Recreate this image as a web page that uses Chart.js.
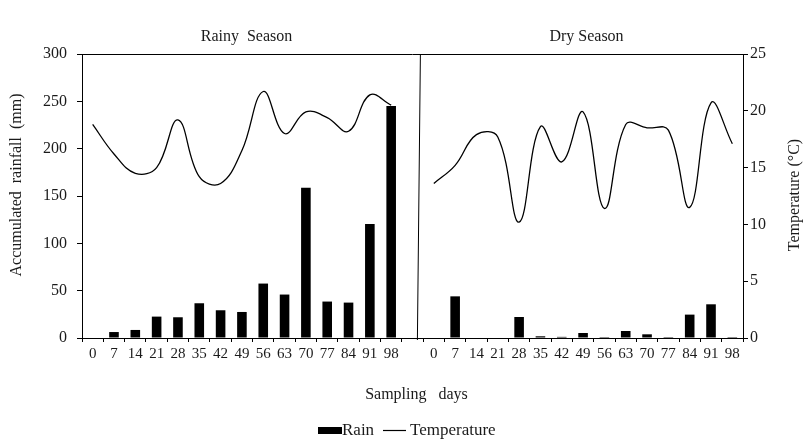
<!DOCTYPE html>
<html lang="en">
<head>
<meta charset="UTF-8">
<title>Rain and Temperature</title>
<script src="https://cdn.jsdelivr.net/npm/chart.js@4.4.0/dist/chart.umd.min.js"></script>
<style>
  body { margin: 0; background: #fff; }
  canvas { display: block; }
</style>
</head>
<body>
<canvas id="myChart" width="803" height="443"></canvas>
<script>
// sampling days, repeated for each season with an empty slot between them
const days = ['0', '7', '14', '21', '28', '35', '42', '49', '56', '63', '70', '77', '84', '91', '98'];
const labels = days.concat([''], days);

// accumulated rainfall (mm)
const rainRainy = [0, 6.3, 8.5, 22.6, 21.9, 36.7, 29.3, 27.5, 57.5, 45.9, 158.6, 38.5, 37.4, 120.5, 245];
const rainDry = [0, 44, 0, 0, 22.2, 1.8, 1.2, 5.3, 1, 7.4, 3.9, 1, 24.7, 35.6, 1];

// temperature (°C)
const tempRainy = [18.8, 16.2, 14.5, 15.0, 19.2, 14.2, 13.6, 16.5, 21.7, 18.0, 19.9, 19.4, 18.2, 21.4, 20.5];
const tempDry = [13.6, 15.2, 17.9, 17.7, 10.2, 18.6, 15.5, 19.9, 11.4, 18.8, 18.5, 18.3, 11.5, 20.7, 17.1];

const seasons = ['Rainy  Season', 'Dry Season'];

const rain = rainRainy.concat([null], rainDry);
const temp = tempRainy.concat([null], tempDry);

const FONT = '"Liberation Serif", "Times New Roman", serif';
const TEXT = '#1a1a1a';

function vText(ctx, text, x, y) {
    ctx.save();
    ctx.translate(x, y);
    ctx.rotate(-Math.PI / 2);
    ctx.textAlign = 'center';
    ctx.textBaseline = 'middle';
    ctx.fillText(text, 0, 0);
    ctx.restore();
}

const decorations = {
    id: 'decorations',
    afterDraw(chart) {
        const { ctx, chartArea: a, scales: { x } } = chart;
        ctx.save();
        ctx.strokeStyle = '#000';
        ctx.lineWidth = 1;

        // top border of the plot
        ctx.beginPath();
        ctx.moveTo(a.left, a.top + 0.5);
        ctx.lineTo(a.right, a.top + 0.5);
        ctx.stroke();

        // divider between the two seasons
        const g = x.getPixelForValue(15);
        const xd = g + 0.3 * (x.getPixelForValue(16) - g);
        ctx.beginPath();
        ctx.moveTo(xd + 1.5, a.top);
        ctx.lineTo(xd - 1.5, a.bottom + 2);
        ctx.stroke();

        ctx.fillStyle = TEXT;
        ctx.font = '16px ' + FONT;
        ctx.textAlign = 'center';
        ctx.textBaseline = 'alphabetic';

        // season titles
        ctx.fillText(seasons[0], 246.5, 40.5);
        ctx.fillText(seasons[1], 586.5, 40.5);

        // axis titles
        ctx.fillText('Sampling   days', 416.5, 399);
        vText(ctx, 'Accumulated  rainfall  (mm)', 17, 185);
        vText(ctx, 'Temperature (°C)', 795, 195);

        // legend
        ctx.fillStyle = '#000';
        ctx.fillRect(318, 427, 24, 7);
        ctx.fillStyle = TEXT;
        ctx.font = '17px ' + FONT;
        ctx.textAlign = 'left';
        ctx.fillText('Rain', 342, 434.5);
        ctx.beginPath();
        ctx.lineWidth = 1.2;
        ctx.moveTo(383, 430.5);
        ctx.lineTo(406, 430.5);
        ctx.stroke();
        ctx.fillText('Temperature', 410, 434.5);
        ctx.restore();
    }
};

const ctx = document.getElementById('myChart').getContext('2d');
const myChart = new Chart(ctx, {
    data: {
        labels: labels,
        datasets: [{
            type: 'line',
            label: 'Temperature',
            data: temp,
            yAxisID: 'y1',
            borderColor: '#000',
            borderWidth: 1.3,
            pointRadius: 0,
            tension: 0.4,
            fill: false,
            order: 0
        }, {
            type: 'bar',
            label: 'Rain',
            data: rain,
            yAxisID: 'y',
            backgroundColor: '#000',
            categoryPercentage: 1,
            barPercentage: 0.45,
            order: 1
        }]
    },
    options: {
        responsive: false,
        animation: false,
        layout: { padding: { top: 54, bottom: 36, left: 0, right: 0 } },
        plugins: {
            legend: { display: false },
            tooltip: { enabled: false }
        },
        scales: {
            x: {
                offset: true,
                afterFit: s => { s.height = 69; },
                grid: { offset: true, drawOnChartArea: false, tickLength: 4, color: '#000' },
                border: { color: '#000' },
                ticks: { color: TEXT, font: { family: FONT, size: 15 }, padding: 3, maxRotation: 0, autoSkip: false }
            },
            y: {
                position: 'left',
                min: 0, max: 300,
                afterFit: s => { s.width = 82; },
                grid: { drawOnChartArea: false, tickLength: 5, color: '#000' },
                border: { color: '#000' },
                ticks: { stepSize: 50, color: TEXT, font: { family: FONT, size: 16 }, padding: 10 }
            },
            y1: {
                position: 'right',
                min: 0, max: 25,
                afterFit: s => { s.width = 60; },
                grid: { drawOnChartArea: false, tickLength: 5, color: '#000' },
                border: { color: '#000' },
                ticks: { stepSize: 5, color: TEXT, font: { family: FONT, size: 16 }, padding: 2 }
            }
        }
    },
    plugins: [decorations]
});
</script>
</body>
</html>
